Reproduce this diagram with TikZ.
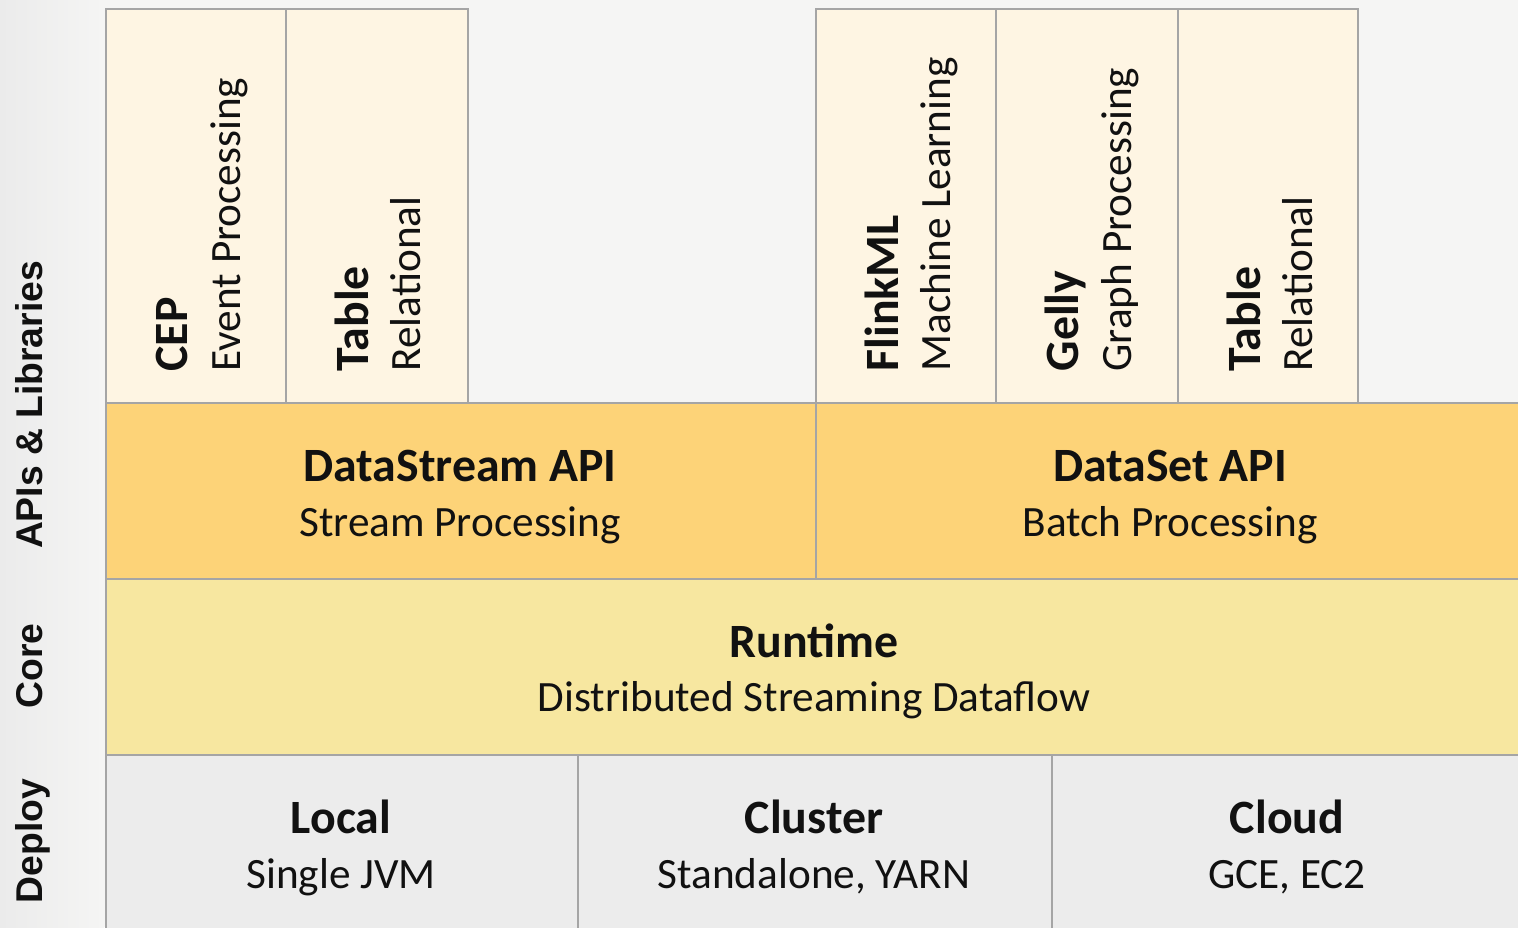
\documentclass[tikz,border=0pt]{standalone}
\usepackage{fontspec}
\setmainfont{Carlito}
\newfontfamily\lblfont{Liberation Sans}
\definecolor{bgc}{HTML}{F5F5F4}
\definecolor{stripc}{HTML}{EBEBEB}
\definecolor{creamc}{HTML}{FEF5E3}
\definecolor{orangec}{HTML}{FDD378}
\definecolor{yellowc}{HTML}{F7E7A0}
\definecolor{grayc}{HTML}{ECECEC}
\definecolor{borderc}{HTML}{A5A5A5}
\definecolor{txtc}{HTML}{111111}
\tikzset{
  blk/.style={draw=borderc, line width=0.022cm, rectangle, inner sep=0pt, anchor=north west},
  ttl/.style={font=\fontsize{13.6}{16}\selectfont\bfseries, text=txtc, anchor=base, inner sep=0pt},
  sub/.style={font=\fontsize{12.3}{14}\selectfont, text=txtc, anchor=base, inner sep=0pt},
  rttl/.style={ttl, anchor=base west, rotate=90},
  rsub/.style={sub, anchor=base west, rotate=90},
  side/.style={font=\lblfont\fontsize{10.6}{12}\selectfont\bfseries, text=txtc, rotate=90, anchor=base, inner sep=0pt}
}
\begin{document}
\begin{tikzpicture}[x=0.01cm, y=-0.01cm]
\clip (0,0) rectangle (1518,927);
\fill[bgc] (0,0) rectangle (1518,927);
\shade[left color=stripc, right color=bgc] (0,0) rectangle (104,927);
% top library boxes
\node[blk, fill=creamc, minimum width=1.80cm, minimum height=3.94cm] (cep) at (105,8) {};
\node[blk, fill=creamc, minimum width=1.82cm, minimum height=3.94cm] (tbla) at (285,8) {};
\node[blk, fill=creamc, minimum width=1.80cm, minimum height=3.94cm] (fml) at (815,8) {};
\node[blk, fill=creamc, minimum width=1.82cm, minimum height=3.94cm] (gelly) at (995,8) {};
\node[blk, fill=creamc, minimum width=1.80cm, minimum height=3.94cm] (tblb) at (1177,8) {};
% API layer
\node[blk, fill=orangec, minimum width=7.10cm, minimum height=1.76cm] (ds) at (105,402) {};
\node[blk, fill=orangec, minimum width=7.15cm, minimum height=1.76cm] (dset) at (815,402) {};
% runtime
\node[blk, fill=yellowc, minimum width=14.25cm, minimum height=1.76cm] (rt) at (105,578) {};
% deploy
\node[blk, fill=grayc, minimum width=4.72cm, minimum height=1.90cm] (local) at (105,754) {};
\node[blk, fill=grayc, minimum width=4.74cm, minimum height=1.90cm] (cluster) at (577,754) {};
\node[blk, fill=grayc, minimum width=4.80cm, minimum height=1.90cm] (cloud) at (1051,754) {};
% rotated library texts
\node[rttl] (cept) at (187,372) {CEP};
\node[rsub] (ceps) at (240,372) {Event Processing};
\node[rttl] (tblat) at (368,372) {Table};
\node[rsub] (tblas) at (420,372) {Relational};
\node[rttl] (fmlt) at (898,372) {FlinkML};
\node[rsub] (fmls) at (950,372) {Machine Learning};
\node[rttl] (gellyt) at (1078,372) {Gelly};
\node[rsub] (gellys) at (1131,372) {Graph Processing};
\node[rttl] (tblbt) at (1260,372) {Table};
\node[rsub] (tblbs) at (1312,372) {Relational};
% horizontal texts
\node[ttl] (dst) at (460,481) {DataStream API};
\node[sub] (dss) at (460,536) {Stream Processing};
\node[ttl] (dsett) at (1170,481) {DataSet API};
\node[sub] (dsets) at (1170,536) {Batch Processing};
\node[ttl] (rtt) at (814,657) {Runtime};
\node[sub] (rts) at (814,711) {Distributed Streaming Dataflow};
\node[ttl] (localt) at (341,833) {Local};
\node[sub] (locals) at (341,888) {Single JVM};
\node[ttl] (clustert) at (814,833) {Cluster};
\node[sub] (clusters) at (814,888) {Standalone, YARN};
\node[ttl] (cloudt) at (1287,833) {Cloud};
\node[sub] (clouds) at (1287,888) {GCE, EC2};
% side labels
\node[side] (apis) at (42,405) {APIs \& Libraries};
\node[side] (core) at (42,666) {Core};
\node[side] (deploy) at (42,841) {Deploy};
\end{tikzpicture}
\end{document}
